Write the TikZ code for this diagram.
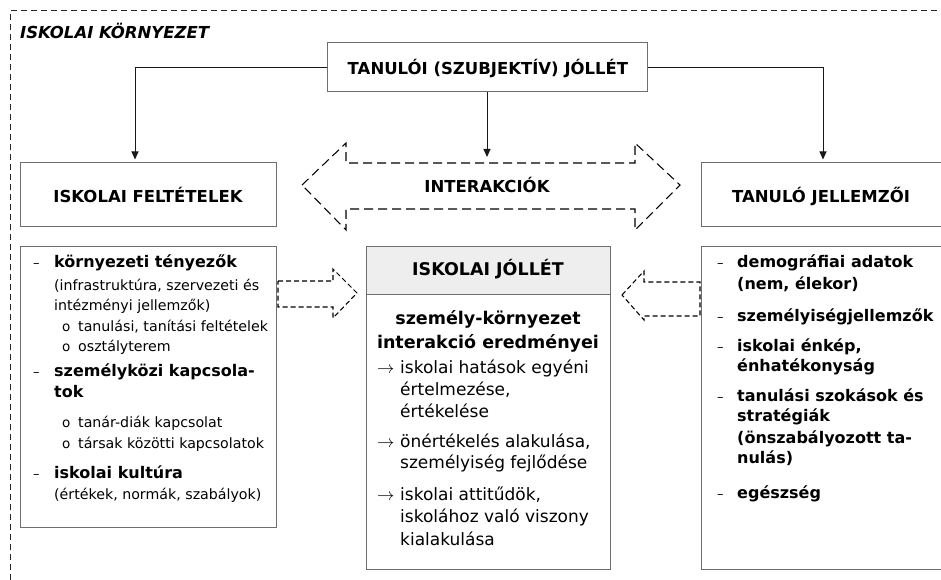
\documentclass[tikz,border=0pt]{standalone}
\usepackage{fontspec}
\setmainfont{DejaVu Sans}
\usetikzlibrary{arrows.meta}
\definecolor{boxgray}{HTML}{6E6E6E}
\definecolor{headgray}{HTML}{EEEEEE}
\begin{document}
\begin{tikzpicture}[x=1pt,y=-1pt,
  box/.style={draw=boxgray, line width=1pt, inner sep=0pt},
  conn/.style={draw=black!90, line width=0.9pt, -{Triangle[length=8pt,width=7pt]}},
  outerline/.style={draw=black!85, line width=1pt, dash pattern=on 6pt off 4pt},
  bigdash/.style={draw=black, line width=1.05pt, dash pattern=on 9pt off 5pt},
  smalldash/.style={draw=black, line width=1.05pt, dash pattern=on 5pt off 3pt},
  headtxt/.style={anchor=base, inner sep=0pt, font=\fontsize{16.5}{20}\selectfont\bfseries},
  lb/.style={anchor=base west, inner sep=0pt, font=\fontsize{16}{19}\selectfont\bfseries},
  lr/.style={anchor=base west, inner sep=0pt, font=\fontsize{14.2}{17}\selectfont},
  dashm/.style={anchor=base west, inner sep=0pt, font=\fontsize{13}{16}\selectfont},
  bul/.style={anchor=base west, inner sep=0pt, font=\fontsize{13.5}{15}\selectfont},
  cb/.style={anchor=base, inner sep=0pt, font=\fontsize{17.5}{20}\selectfont\bfseries},
  cr/.style={anchor=base west, inner sep=0pt, font=\fontsize{17}{20}\selectfont},
  ]
\useasboundingbox (0,0) rectangle (941,580);
\clip (0,0) rectangle (941,580);

% outer dashed frame
\draw[outerline] (10,590) -- (10,11) -- (960,11);
\node[anchor=base west, inner sep=0pt, font=\fontsize{16.5}{20}\selectfont\bfseries\itshape] (env) at (20,38.5) {ISKOLAI KÖRNYEZET};

% top box
\node[box, minimum width=320pt, minimum height=49pt] (top) at (487,67.5) {};
\node[headtxt] (toptxt) at (488,75) {TANULÓI (SZUBJEKTÍV) JÓLLÉT};

% second row boxes
\node[box, minimum width=256pt, minimum height=63pt] (fel) at (148,194.5) {};
\node[headtxt] (feltxt) at (148,202) {ISKOLAI FELTÉTELEK};
\node[box, minimum width=243pt, minimum height=63pt] (jel) at (822.5,194.5) {};
\node[headtxt] (jeltxt) at (821,202) {TANULÓ JELLEMZŐI};

% connectors
\draw[conn, shorten >=3pt] (top.west) -| ([xshift=-13pt]fel.north);
\draw[conn, shorten >=3pt] (top.east) -| ([xshift=0.5pt]jel.north);
\coordinate (ia) at (487,163);
\draw[conn, shorten >=6pt] (top.south) -- (ia);

% double arrow
\draw[bigdash] (302,185) -- (346,143) -- (346,163) -- (635,163) -- (635,143) -- (680,185)
  -- (635,230) -- (635,209) -- (346,209) -- (346,230) -- cycle;
\node[headtxt] (inter) at (487,193) {INTERAKCIÓK};

% lower boxes
\node[box, minimum width=256pt, minimum height=281pt] (lbox) at (148,386.5) {};
\node[box, fill=headgray, minimum width=244pt, minimum height=48pt] (chead) at (488,270) {};
\node[box, minimum width=244pt, minimum height=275pt] (cbody) at (488,431.5) {};
\node[box, minimum width=243pt, minimum height=323pt] (rbox) at (822.5,407.5) {};

% small dashed arrows
\draw[smalldash] (278,281) -- (333,281) -- (333,269) -- (357,293) -- (333,318) -- (333,307) -- (278,307) -- cycle;
\draw[smalldash] (622,295) -- (644,271) -- (644,282) -- (700,282) -- (700,316) -- (644,316) -- (644,320) -- cycle;

% left box text
\node[dashm] (ld1) at (33,267) {–};
\node[lb] (l1) at (54,267) {környezeti tényezők};
\node[lr] (l2) at (54,290) {(infrastruktúra, szervezeti és};
\node[lr] (l3) at (54,310) {intézményi jellemzők)};
\node[bul] (lo1) at (62,331) {o};
\node[lr] (l4) at (78,331) {tanulási, tanítási feltételek};
\node[bul] (lo2) at (62,351) {o};
\node[lr] (l5) at (78,351) {osztályterem};
\node[dashm] (ld2) at (33,376) {–};
\node[lb] (l6) at (54,376) {személyközi kapcsola-};
\node[lb] (l7) at (54,397) {tok};
\node[bul] (lo3) at (62,427) {o};
\node[lr] (l8) at (78,427) {tanár-diák kapcsolat};
\node[bul] (lo4) at (62,448) {o};
\node[lr] (l9) at (78,448) {társak közötti kapcsolatok};
\node[dashm] (ld3) at (33,478) {–};
\node[lb] (l10) at (54,478) {iskolai kultúra};
\node[lr] (l11) at (54,499) {(értékek, normák, szabályok)};

% center box text
\node[cb] (c0) at (488,275) {ISKOLAI JÓLLÉT};
\node[cb] (c1) at (488,324) {személy-környezet};
\node[cb] (c2) at (488,348) {interakció eredményei};
\node[cr] (ca1) at (377,373) {$\rightarrow$};
\node[cr] (c3) at (400,373) {iskolai hatások egyéni};
\node[cr] (c4) at (400,395) {értelmezése,};
\node[cr] (c5) at (400,417) {értékelése};
\node[cr] (ca2) at (377,447) {$\rightarrow$};
\node[cr] (c6) at (400,447) {önértékelés alakulása,};
\node[cr] (c7) at (400,468) {személyiség fejlődése};
\node[cr] (ca3) at (377,500) {$\rightarrow$};
\node[cr] (c8) at (400,500) {iskolai attitűdök,};
\node[cr] (c9) at (400,522) {iskolához való viszony};
\node[cr] (c10) at (400,545) {kialakulása};

% right box text
\node[dashm] (rd1) at (717,267) {–};
\node[lb] (r1) at (737,267) {demográfiai adatok};
\node[lb] (r2) at (737,289) {(nem, élekor)};
\node[dashm] (rd2) at (717,321) {–};
\node[lb] (r3) at (737,321) {személyiségjellemzők};
\node[dashm] (rd3) at (717,351) {–};
\node[lb] (r4) at (737,351) {iskolai énkép,};
\node[lb] (r5) at (737,371) {énhatékonyság};
\node[dashm] (rd4) at (717,401) {–};
\node[lb] (r6) at (737,401) {tanulási szokások és};
\node[lb] (r7) at (737,421) {stratégiák};
\node[lb] (r8) at (737,443) {(önszabályozott ta-};
\node[lb] (r9) at (737,463) {nulás)};
\node[dashm] (rd5) at (717,498) {–};
\node[lb] (r10) at (737,498) {egészség};
\end{tikzpicture}
\end{document}
